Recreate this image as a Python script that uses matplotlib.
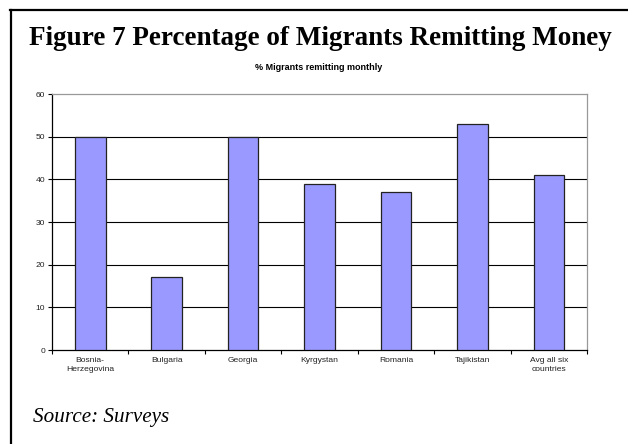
import matplotlib
matplotlib.use("Agg")
import matplotlib.pyplot as plt
from matplotlib.lines import Line2D
import numpy as np

categories = ["Bosnia-\nHerzegovina", "Bulgaria", "Georgia", "Kyrgystan",
              "Romania", "Tajikistan", "Avg all six\ncountries"]
values = [50, 17, 50, 39, 37, 53, 41]
yticks = [0, 10, 20, 30, 40, 50, 60]

W, H = 628, 444
fig = plt.figure(figsize=(W / 100, H / 100), dpi=100)
fig.patch.set_facecolor("white")

# frame lines (top and left)
fig.add_artist(Line2D([10 / W, 1.0], [1 - 10 / H, 1 - 10 / H], color="black", lw=1.6,
                      transform=fig.transFigure))
fig.add_artist(Line2D([11 / W, 11 / W], [0, 1 - 10 / H], color="black", lw=1.6,
                      transform=fig.transFigure))

fig.text(29 / W, 1 - 45 / H, "Figure 7 Percentage of Migrants Remitting Money",
         family="Liberation Serif", fontweight="bold", fontsize=19.5,
         ha="left", va="baseline")
fig.text(319 / W, 1 - 68 / H, "% Migrants remitting monthly",
         family="Liberation Sans", fontweight="bold", fontsize=6.5,
         ha="center", va="center")
fig.text(33 / W, 1 - 422 / H, "Source: Surveys", family="Liberation Serif",
         fontstyle="italic", fontsize=15.2, ha="left", va="baseline")

ax = fig.add_axes([52 / W, 1 - 350 / H, (587 - 52) / W, (350 - 94) / H])
x = np.arange(len(categories))
ax.bar(x, values, width=0.4, color="#9999FF", edgecolor="#222222", linewidth=0.9, zorder=3)

ax.set_xlim(-0.5, len(categories) - 0.5)
ax.set_ylim(0, 60)
ax.set_yticks(yticks)
ax.set_yticklabels([str(t) for t in yticks], family="Liberation Sans", fontsize=6.1,
                   color="#222222")
for t in yticks[1:-1]:
    ax.axhline(t, color="black", lw=0.8, zorder=1)

ax.set_xticks(x)
ax.set_xticklabels(categories, family="Liberation Sans", fontsize=6.1, linespacing=1.35,
                   color="#222222")
ax.tick_params(axis="x", which="major", length=0, pad=5)
ax.set_xticks(np.arange(-0.5, len(categories), 1.0), minor=True)
ax.tick_params(axis="x", which="minor", length=3, width=0.8, direction="out")
ax.tick_params(axis="y", length=3, width=0.8, direction="out", pad=2)

for s in ["left", "bottom"]:
    ax.spines[s].set_color("black")
    ax.spines[s].set_linewidth(0.9)
for s in ["top", "right"]:
    ax.spines[s].set_color("#999999")
    ax.spines[s].set_linewidth(0.9)

fig.savefig("out.png", dpi=100, facecolor="white")
